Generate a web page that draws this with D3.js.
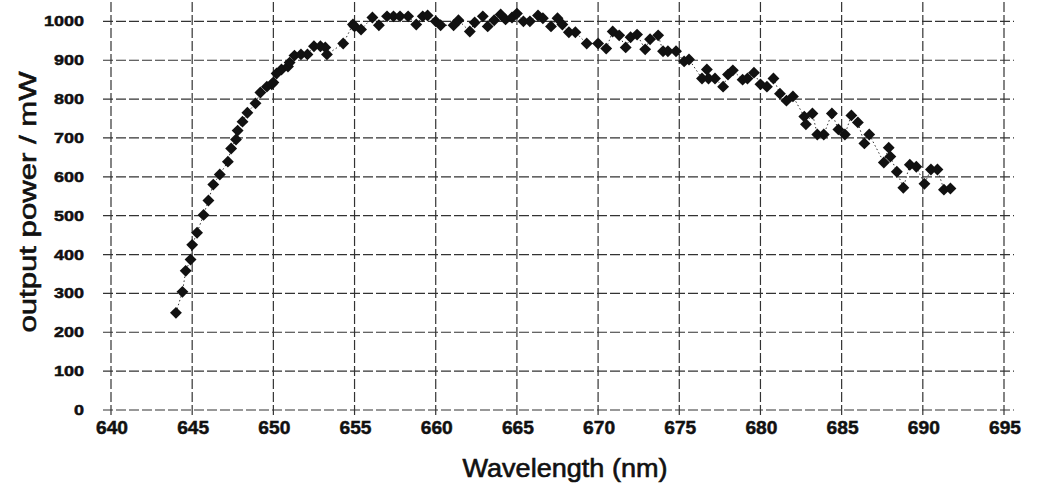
<!DOCTYPE html>
<html lang="en">
<head>
    <meta charset="UTF-8">
    <title>Output power vs wavelength</title>
    <script src="https://d3js.org/d3.v7.min.js"></script>
    <style>
        body { margin: 0; background: #fff; }
        text { font-family: "Liberation Sans", Arial, sans-serif; fill: #111; }
        .grid line { stroke: #333; stroke-width: 1.2; stroke-dasharray: 10,3; }
    </style>
</head>
<body>
    <svg class="chart"></svg>
    <script>
        // Data (nm, mW)
        const wavelength = [
            644.0, 644.4, 644.6, 644.9, 645.0, 645.3, 645.7, 646.0, 646.3, 646.7,
            647.2, 647.4, 647.7, 647.8, 648.1, 648.4, 648.9, 649.2, 649.6, 649.9,
            650.0, 650.2, 650.5, 650.9, 651.0, 651.3, 651.7, 652.1, 652.5, 652.9,
            653.2, 653.3, 654.3, 654.9, 655.0, 655.4, 656.1, 656.5, 657.0, 657.4,
            657.8, 658.3, 658.8, 659.2, 659.5, 660.0, 660.3, 661.1, 661.4, 662.1,
            662.4, 662.9, 663.2, 663.6, 664.0, 664.3, 664.7, 665.0, 665.4, 665.8,
            666.3, 666.6, 667.1, 667.5, 667.8, 668.2, 668.6, 669.3, 670.0, 670.5,
            670.9, 671.3, 671.7, 672.0, 672.4, 672.9, 673.2, 673.7, 674.0, 674.3,
            674.8, 675.3, 675.6, 676.4, 676.7, 676.8, 677.2, 677.7, 678.0, 678.3,
            678.9, 679.2, 679.6, 680.0, 680.4, 680.8, 681.2, 681.6, 682.0, 682.7,
            682.8, 683.2, 683.5, 683.9, 684.4, 684.8, 685.2, 685.6, 686.0, 686.4,
            686.7, 687.6, 687.9, 688.0, 688.4, 688.8, 689.2, 689.6, 690.1, 690.5,
            690.9, 691.3, 691.7
        ];
        const power = [
            250, 304, 358, 387, 425, 456, 502, 539, 580, 606,
            639, 673, 696, 719, 742, 765, 789, 817, 832, 838,
            843, 866, 876, 884, 894, 912, 915, 915, 936, 936,
            933, 915, 943, 992, 987, 979, 1010, 990, 1013, 1013,
            1013, 1013, 992, 1013, 1015, 1000, 990, 990, 1003, 974,
            997, 1013, 987, 1003, 1018, 1005, 1010, 1020, 1000, 1000,
            1015, 1008, 987, 1008, 992, 972, 972, 943, 943, 930,
            974, 964, 933, 959, 966, 928, 954, 964, 923, 923,
            923, 897, 902, 853, 876, 853, 853, 832, 863, 874,
            850, 853, 868, 838, 832, 853, 814, 796, 807, 755,
            735, 763, 709, 709, 763, 722, 709, 758, 740, 686,
            709, 637, 675, 652, 613, 572, 631, 626, 582, 619,
            619, 567, 570
        ];
        const xTicks = [640, 645, 650, 655, 660, 665, 670, 675, 680, 685, 690, 695];
        const yTicks = [0, 100, 200, 300, 400, 500, 600, 700, 800, 900, 1000];

        const points = wavelength.map((w, i) => ({ w, p: power[i] }));

        // Dimensions
        const width = 1041;
        const height = 488;
        const svg = d3.select(".chart")
            .attr("width", width)
            .attr("height", height);

        const x = d3.scaleLinear().domain([640, 695]).range([111, 1004]);
        const y = d3.scaleLinear().domain([0, 1055]).range([410, 0]);

        // Grid lines
        svg.append("g")
            .attr("class", "grid")
            .selectAll("line")
            .data(yTicks)
            .join("line")
            .attr("x1", x(640) - 8)
            .attr("x2", x(695) + 10)
            .attr("y1", d => y(d))
            .attr("y2", d => y(d));

        svg.append("g")
            .attr("class", "grid")
            .selectAll("line")
            .data(xTicks)
            .join("line")
            .attr("x1", d => x(d))
            .attr("x2", d => x(d))
            .attr("y1", y(0) + 5)
            .attr("y2", 0);

        // Tick labels (scan looks heavy, so a thin stroke thickens them)
        svg.append("g")
            .selectAll("text")
            .data(yTicks)
            .join("text")
            .attr("x", 84)
            .attr("y", d => y(d) + 5)
            .attr("text-anchor", "end")
            .attr("font-size", "15px")
            .attr("font-weight", "bold")
            .attr("stroke", "#111")
            .attr("stroke-width", 0.5)
            .attr("textLength", d => String(d).length * 10)
            .attr("lengthAdjust", "spacingAndGlyphs")
            .text(d => d);

        svg.append("g")
            .selectAll("text")
            .data(xTicks)
            .join("text")
            .attr("x", d => x(d) + 1)
            .attr("y", 434)
            .attr("text-anchor", "middle")
            .attr("font-size", "19px")
            .attr("font-weight", "bold")
            .attr("stroke", "#111")
            .attr("stroke-width", 0.5)
            .attr("textLength", 32)
            .attr("lengthAdjust", "spacingAndGlyphs")
            .text(d => d);

        // Axis titles
        svg.append("text")
            .attr("x", 565)
            .attr("y", 477)
            .attr("text-anchor", "middle")
            .attr("font-size", "25px")
            .attr("stroke", "#111")
            .attr("stroke-width", 0.6)
            .attr("textLength", 205)
            .attr("lengthAdjust", "spacingAndGlyphs")
            .text("Wavelength (nm)");

        svg.append("text")
            .attr("transform", "translate(36,202) rotate(-90)")
            .attr("text-anchor", "middle")
            .attr("font-size", "24px")
            .attr("stroke", "#111")
            .attr("stroke-width", 0.6)
            .attr("textLength", 261)
            .attr("lengthAdjust", "spacingAndGlyphs")
            .text("output power / mW");

        // Dotted connecting line
        const line = d3.line()
            .x(d => x(d.w))
            .y(d => y(d.p));

        svg.append("path")
            .datum(points)
            .attr("fill", "none")
            .attr("stroke", "#333")
            .attr("stroke-width", 1)
            .attr("stroke-dasharray", "1.5,2.5")
            .attr("d", line);

        // Diamond markers
        const diamond = d3.symbol().type(d3.symbolDiamond2).size(90);
        svg.append("g")
            .selectAll("path")
            .data(points)
            .join("path")
            .attr("transform", d => `translate(${x(d.w)},${y(d.p)})`)
            .attr("d", diamond)
            .attr("fill", "#111");
    </script>
</body>
</html>
